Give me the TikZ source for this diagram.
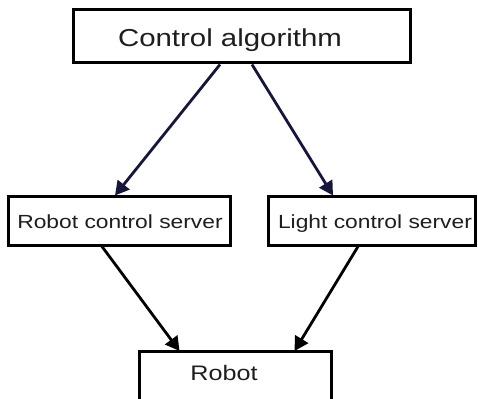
\documentclass[tikz,border=0pt]{standalone}
\usepackage{fontspec}
\setmainfont[FakeStretch=1.2]{Liberation Sans}
\usetikzlibrary{arrows.meta}
\definecolor{navy}{HTML}{16163C}
\definecolor{txt}{HTML}{1E1E1E}
\begin{document}
\begin{tikzpicture}[x=1pt,y=-1pt,
  box/.style={draw=black,line width=3pt,rectangle,inner sep=0pt,fill=white},
  lbl/.style={inner sep=0pt,text=txt,anchor=base},
  conn/.style={line width=2.8pt,-{Triangle[length=14pt,width=15pt]}},
]
\clip (0,0) rectangle (478,398);
\fill[white] (0,0) rectangle (478,398);
\node[box,minimum width=337pt,minimum height=53pt] (ca) at (241.5,36.5) {};
\node[box,minimum width=222pt,minimum height=49pt] (rcs) at (119,220.5) {};
\node[box,minimum width=207pt,minimum height=49pt] (lcs) at (371.5,220.5) {};
\node[box,minimum width=192pt,minimum height=70pt,anchor=north west] (robot) at (138,350) {};
\node[lbl,font=\fontsize{24.5}{28}\selectfont] (catext) at (230,47) {Control algorithm};
\node[lbl,font=\fontsize{19}{22}\selectfont] (rcstext) at (120,228) {Robot control server};
\node[lbl,font=\fontsize{19}{22}\selectfont] (lcstext) at (375,228) {Light control server};
\node[lbl,font=\fontsize{21}{24}\selectfont] (robottext) at (224,380) {Robot};
\draw[conn,navy] ([xshift=-21.5pt]ca.south) -- ([xshift=-4pt,yshift=-1pt]rcs.north);
\draw[conn,navy] ([xshift=10.5pt]ca.south) -- ([xshift=-38.5pt,yshift=-1pt]lcs.north);
\draw[conn,black] ([xshift=-17pt]rcs.south) -- ([xshift=-56pt,yshift=-1pt]robot.north);
\draw[conn,black] ([xshift=-13.5pt]lcs.south) -- ([xshift=59pt,yshift=-1pt]robot.north);
\end{tikzpicture}
\end{document}
